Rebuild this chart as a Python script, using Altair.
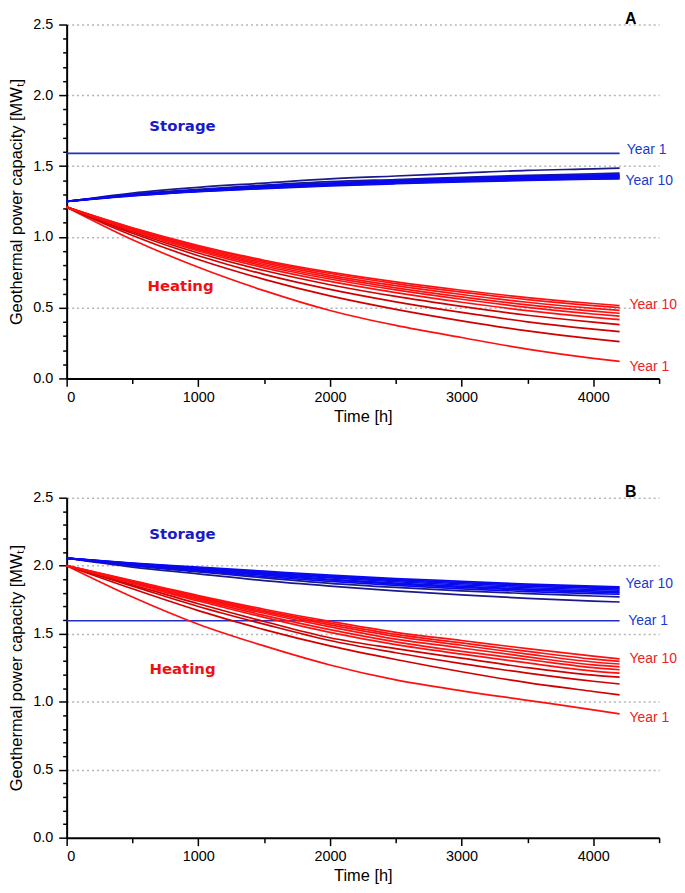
import altair as alt
import pandas as pd

# ---------------- data ----------------
TIME_H = [0, 500, 1000, 1500, 2000, 2500, 3000, 3500, 4000, 4200]
YEARS = ["Year 1", "Year 2", "Year 3", "Year 4", "Year 5",
         "Year 6", "Year 7", "Year 8", "Year 9", "Year 10"]

# Panel A
A_STORAGE = [
    [1.59, 1.59, 1.59, 1.59, 1.59, 1.59, 1.59, 1.59, 1.59, 1.59],
    [1.25, 1.31, 1.35, 1.38, 1.41, 1.43, 1.45, 1.47, 1.48, 1.485],
    [1.25, 1.30, 1.335, 1.365, 1.39, 1.405, 1.42, 1.435, 1.445, 1.45],
    [1.25, 1.30, 1.33, 1.36, 1.38, 1.40, 1.415, 1.43, 1.437, 1.44],
    [1.25, 1.295, 1.33, 1.355, 1.378, 1.395, 1.41, 1.425, 1.432, 1.435],
    [1.25, 1.295, 1.327, 1.352, 1.374, 1.39, 1.405, 1.418, 1.427, 1.43],
    [1.25, 1.294, 1.325, 1.35, 1.37, 1.387, 1.40, 1.413, 1.422, 1.425],
    [1.25, 1.293, 1.323, 1.347, 1.367, 1.383, 1.396, 1.408, 1.417, 1.42],
    [1.25, 1.292, 1.321, 1.344, 1.364, 1.379, 1.392, 1.403, 1.412, 1.415],
    [1.25, 1.29, 1.319, 1.341, 1.36, 1.375, 1.388, 1.399, 1.407, 1.41],
]
A_HEATING = [
    [1.21, 0.98, 0.785, 0.62, 0.48, 0.375, 0.289, 0.207, 0.142, 0.12],
    [1.21, 1.01, 0.84, 0.70, 0.583, 0.488, 0.407, 0.336, 0.279, 0.26],
    [1.21, 1.025, 0.867, 0.735, 0.629, 0.541, 0.466, 0.40, 0.348, 0.33],
    [1.21, 1.036, 0.886, 0.762, 0.662, 0.579, 0.509, 0.446, 0.397, 0.38],
    [1.21, 1.043, 0.90, 0.781, 0.685, 0.606, 0.538, 0.479, 0.431, 0.415],
    [1.21, 1.048, 0.91, 0.794, 0.702, 0.625, 0.559, 0.502, 0.455, 0.44],
    [1.21, 1.053, 0.918, 0.805, 0.715, 0.64, 0.576, 0.52, 0.475, 0.46],
    [1.21, 1.057, 0.925, 0.816, 0.728, 0.655, 0.593, 0.538, 0.495, 0.48],
    [1.21, 1.061, 0.933, 0.827, 0.741, 0.67, 0.61, 0.557, 0.514, 0.50],
    [1.21, 1.064, 0.939, 0.835, 0.751, 0.682, 0.623, 0.571, 0.529, 0.515],
]

# Panel B
B_STORAGE = [
    [1.595, 1.595, 1.595, 1.595, 1.595, 1.595, 1.595, 1.595, 1.595, 1.595],
    [2.055, 1.99, 1.94, 1.89, 1.85, 1.815, 1.785, 1.76, 1.74, 1.733],
    [2.055, 2.00, 1.955, 1.91, 1.87, 1.84, 1.815, 1.795, 1.777, 1.77],
    [2.055, 2.00, 1.96, 1.92, 1.885, 1.855, 1.83, 1.81, 1.795, 1.79],
    [2.055, 2.005, 1.965, 1.93, 1.895, 1.865, 1.84, 1.82, 1.805, 1.80],
    [2.055, 2.01, 1.97, 1.935, 1.90, 1.872, 1.848, 1.828, 1.815, 1.81],
    [2.055, 2.012, 1.975, 1.94, 1.91, 1.882, 1.858, 1.838, 1.825, 1.82],
    [2.055, 2.015, 1.98, 1.947, 1.917, 1.89, 1.867, 1.848, 1.835, 1.83],
    [2.055, 2.017, 1.985, 1.953, 1.923, 1.898, 1.876, 1.857, 1.843, 1.838],
    [2.055, 2.02, 1.99, 1.96, 1.93, 1.905, 1.885, 1.865, 1.85, 1.845],
]
B_HEATING = [
    [2.00, 1.77, 1.57, 1.41, 1.27, 1.16, 1.08, 1.01, 0.94, 0.91],
    [2.00, 1.83, 1.67, 1.53, 1.41, 1.31, 1.22, 1.14, 1.075, 1.05],
    [2.00, 1.85, 1.70, 1.57, 1.45, 1.36, 1.28, 1.21, 1.15, 1.13],
    [2.00, 1.86, 1.72, 1.59, 1.47, 1.39, 1.32, 1.25, 1.195, 1.18],
    [2.00, 1.87, 1.74, 1.62, 1.51, 1.42, 1.35, 1.285, 1.225, 1.21],
    [2.00, 1.875, 1.75, 1.635, 1.53, 1.44, 1.37, 1.31, 1.25, 1.235],
    [2.00, 1.88, 1.76, 1.65, 1.55, 1.46, 1.395, 1.33, 1.27, 1.256],
    [2.00, 1.883, 1.767, 1.66, 1.565, 1.48, 1.415, 1.35, 1.292, 1.277],
    [2.00, 1.887, 1.773, 1.67, 1.578, 1.495, 1.432, 1.37, 1.313, 1.296],
    [2.00, 1.89, 1.78, 1.68, 1.59, 1.51, 1.45, 1.39, 1.335, 1.315],
]

# Annotations (text, time, value, style)
A_LABELS = [("Storage", 880, 1.78, "storage"), ("Heating", 865, 0.65, "heating"),
            ("Year 1", 4255, 1.61, "yblue"), ("Year 10", 4245, 1.395, "yblue"),
            ("Year 10", 4275, 0.52, "yred"), ("Year 1", 4275, 0.083, "yred")]
B_LABELS = [("Storage", 880, 2.23, "storage"), ("Heating", 880, 1.24, "heating"),
            ("Year 10", 4245, 1.867, "yblue"), ("Year 1", 4265, 1.59, "yblue"),
            ("Year 10", 4275, 1.313, "yred"), ("Year 1", 4275, 0.883, "yred")]
PANEL_LETTER_T = 4285


def style_group(kind, idx):
    if kind == "S":
        if idx == 0:
            return "s1"
        if idx in (1, 2):
            return "sdark"
        return "s"
    if idx in (1, 2, 3):
        return "hdark"
    return "h"


def build_lines(storage, heating):
    rows = []
    for kind, block in (("S", storage), ("H", heating)):
        for i, vals in enumerate(block):
            for t, v in zip(TIME_H, vals):
                rows.append({"t": t, "v": v, "series": f"{kind}{i+1}",
                             "grp": style_group(kind, i)})
    return pd.DataFrame(rows)


GRP_DOMAIN = ["s1", "sdark", "s", "hdark", "h"]
GRP_RANGE = ["#2030c0", "#1a1a8a", "#0a0aee", "#d00000", "#ff1010"]
TEXT_STYLE = {
    "storage": dict(color="#1a1ac8", font="DejaVu Sans", fontWeight="bold", fontSize=15, align="center"),
    "heating": dict(color="#ee1111", font="DejaVu Sans", fontWeight="bold", fontSize=15, align="center"),
    "yblue": dict(color="#1a3ad0", font="Liberation Sans", fontSize=14, align="left"),
    "yred": dict(color="#ee2222", font="Liberation Sans", fontSize=14, align="left"),
}

Y_TICKS = [round(i * 0.1, 1) for i in range(26)]
X_TICKS = [i * 500 for i in range(10)]
MAJOR_Y = "abs(datum.value*2 - round(datum.value*2)) < 0.001"
MAJOR_X = "abs(datum.value/1000 - round(datum.value/1000)) < 0.001"

FONT = "Liberation Sans"

x_axis = alt.Axis(values=X_TICKS, title="Time [h]", grid=False,
                  labelExpr=f"{MAJOR_X} ? datum.value : ''",
                  tickSize={"condition": {"test": MAJOR_X, "value": 8}, "value": 5},
                  labelPadding=4, titlePadding=5)
y_axis = alt.Axis(values=Y_TICKS, title="Geothermal power capacity [MWₜ]",
                  labelExpr=f"{MAJOR_Y} ? format(datum.value, '.1f') : ''",
                  tickSize={"condition": {"test": MAJOR_Y, "value": 8}, "value": 4},
                  gridOpacity={"condition": {"test": f"{MAJOR_Y} && datum.value > 0", "value": 1}, "value": 0},
                  labelPadding=6, titlePadding=8)

X = alt.X("t:Q", scale=alt.Scale(domain=[0, 4500], nice=False, zero=False), axis=x_axis)
Y = alt.Y("v:Q", scale=alt.Scale(domain=[0, 2.5], nice=False), axis=y_axis)


def panel(storage, heating, labels, letter, height):
    df = build_lines(storage, heating)
    ann = pd.DataFrame([{"label": a, "t": t, "v": v, "kind": k} for a, t, v, k in labels])
    layers = [alt.Chart(df).mark_line(interpolate="monotone", strokeWidth=1.7).encode(
        x=X, y=Y, detail="series:N",
        color=alt.Color("grp:N", scale=alt.Scale(domain=GRP_DOMAIN, range=GRP_RANGE), legend=None),
    )]
    for kind, st in TEXT_STYLE.items():
        layers.append(
            alt.Chart(ann).transform_filter(f"datum.kind == '{kind}'")
            .mark_text(baseline="middle", **st)
            .encode(x=X, y=Y, text="label:N")
        )
    layers.append(alt.Chart(pd.DataFrame({"t": [PANEL_LETTER_T], "label": [letter]})).mark_text(
        font=FONT, fontWeight="bold", fontSize=16, align="center", baseline="alphabetic", color="black"
    ).encode(x=X, y=alt.value(-1), text="label:N"))
    return alt.layer(*layers).properties(width=596, height=height)


top = panel(A_STORAGE, A_HEATING, A_LABELS, "A", 356)
bottom = panel(B_STORAGE, B_HEATING, B_LABELS, "B", 342)

chart = alt.vconcat(top, bottom, spacing=59).properties(
    padding={"left": 0, "top": 0, "right": 0, "bottom": 0}
).configure_view(stroke=None).configure_axis(
    labelFont=FONT, titleFont=FONT, labelFontSize=14.5, titleFontSize=16.5,
    titleFontWeight="normal", labelColor="black", titleColor="black",
    domainColor="black", domainWidth=2, tickColor="black", tickWidth=1.5,
    gridColor="#b5b5b5", gridDash=[2, 3], gridWidth=1.5,
)

chart.save("out.html", embed_options={"renderer": "svg", "actions": False})
